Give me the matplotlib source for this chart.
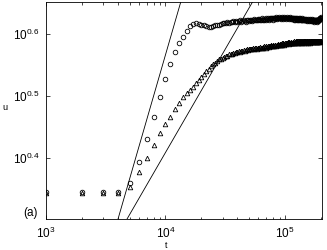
import numpy as np
import matplotlib
matplotlib.use("Agg")
import matplotlib.pyplot as plt
from matplotlib.ticker import (FixedLocator, FixedFormatter, NullLocator,
                               LogLocator, NullFormatter)

plt.rcParams['font.family'] = ['Liberation Sans', 'DejaVu Sans']
plt.rcParams['mathtext.default'] = 'regular'

# time samples (every 1000 from 1e3 to 2e5)
t = np.arange(1000, 201000, 1000)

# log10(u), circles series
log_u_circle = [
    0.345, 0.345, 0.345, 0.345,
    0.360, 0.393, 0.431, 0.466, 0.499, 0.528, 0.552, 0.571, 0.586, 0.595, 0.605, 0.613,
    0.616, 0.617, 0.616, 0.615,
    0.614, 0.613, 0.612, 0.612, 0.613, 0.614, 0.614, 0.615, 0.616, 0.617,
    0.618, 0.617, 0.619, 0.618, 0.620, 0.619, 0.621, 0.620, 0.621, 0.620,
    0.621, 0.622, 0.620, 0.621, 0.622, 0.621, 0.620, 0.622, 0.623, 0.621,
    0.622, 0.623, 0.621, 0.622, 0.624, 0.622, 0.623, 0.622, 0.624, 0.623,
    0.624, 0.622, 0.623, 0.625, 0.623, 0.624, 0.622, 0.624, 0.625, 0.623,
    0.624, 0.626, 0.624, 0.623, 0.625, 0.626, 0.624, 0.625, 0.623, 0.625,
    0.626, 0.624, 0.625, 0.627, 0.625, 0.624, 0.626, 0.625, 0.627, 0.626,
    0.625, 0.624, 0.626, 0.627, 0.625, 0.626, 0.624, 0.626, 0.627, 0.625,
    0.626, 0.624, 0.625, 0.627, 0.626, 0.625, 0.624, 0.626, 0.625, 0.627,
    0.626, 0.624, 0.625, 0.626, 0.624, 0.626, 0.625, 0.623, 0.625, 0.624,
    0.625, 0.623, 0.624, 0.626, 0.624, 0.623, 0.625, 0.624, 0.623, 0.625,
    0.624, 0.622, 0.624, 0.625, 0.623, 0.624, 0.622, 0.623, 0.625, 0.623,
    0.624, 0.622, 0.623, 0.624, 0.622, 0.623, 0.624, 0.622, 0.623, 0.622,
    0.624, 0.623, 0.621, 0.623, 0.624, 0.622, 0.623, 0.621, 0.622, 0.623,
    0.622, 0.624, 0.622, 0.621, 0.623, 0.622, 0.624, 0.623, 0.621, 0.622,
    0.623, 0.622, 0.621, 0.623, 0.622, 0.620, 0.622, 0.623, 0.621, 0.622,
    0.621, 0.623, 0.622, 0.620, 0.622, 0.621, 0.623, 0.621, 0.622, 0.623,
    0.622, 0.624, 0.623, 0.624, 0.625, 0.624, 0.626, 0.625, 0.626, 0.627,
]

# log10(u), triangles series
log_u_triangle = [
    0.343, 0.343, 0.343, 0.343,
    0.353, 0.377, 0.400, 0.421, 0.440, 0.455, 0.466, 0.479, 0.489, 0.498, 0.505, 0.510, 0.515, 0.521,
    0.526, 0.531, 0.535, 0.540, 0.544, 0.548, 0.552, 0.554, 0.556, 0.559, 0.560, 0.562,
    0.563, 0.564, 0.565, 0.567, 0.567, 0.568, 0.569, 0.570, 0.571, 0.571,
    0.572, 0.571, 0.573, 0.572, 0.574, 0.573, 0.574, 0.575, 0.574, 0.575,
    0.576, 0.575, 0.576, 0.577, 0.576, 0.577, 0.578, 0.576, 0.577, 0.578,
    0.577, 0.579, 0.578, 0.577, 0.579, 0.578, 0.580, 0.579, 0.578, 0.580,
    0.579, 0.581, 0.580, 0.579, 0.581, 0.580, 0.582, 0.580, 0.581, 0.582,
    0.581, 0.583, 0.582, 0.581, 0.583, 0.582, 0.584, 0.582, 0.583, 0.584,
    0.583, 0.582, 0.584, 0.585, 0.583, 0.584, 0.585, 0.583, 0.584, 0.586,
    0.585, 0.584, 0.586, 0.585, 0.587, 0.585, 0.584, 0.586, 0.587, 0.585,
    0.586, 0.585, 0.587, 0.586, 0.585, 0.587, 0.586, 0.588, 0.586, 0.585,
    0.587, 0.586, 0.588, 0.587, 0.586, 0.588, 0.587, 0.586, 0.588, 0.587,
    0.586, 0.588, 0.587, 0.589, 0.587, 0.586, 0.588, 0.587, 0.586, 0.588,
    0.587, 0.589, 0.588, 0.586, 0.588, 0.587, 0.589, 0.588, 0.586, 0.587,
    0.588, 0.587, 0.589, 0.588, 0.587, 0.586, 0.588, 0.587, 0.589, 0.588,
    0.587, 0.588, 0.586, 0.588, 0.587, 0.589, 0.588, 0.587, 0.588, 0.587,
    0.589, 0.588, 0.587, 0.588, 0.589, 0.587, 0.588, 0.587, 0.589, 0.588,
    0.587, 0.588, 0.589, 0.588, 0.587, 0.588, 0.587, 0.589, 0.588, 0.587,
    0.588, 0.589, 0.587, 0.588, 0.589, 0.588, 0.587, 0.589, 0.588, 0.588,
]

# reference power laws u = c * t^p
line_coef = [0.00794, 0.119]
line_pow = [2.0 / 3.0, 1.0 / 3.0]

xticks = [1e3, 1e4, 1e5]
xticklabels = [r'$10^{3}$', r'$10^{4}$', r'$10^{5}$']
yticks_exp = [0.4, 0.5, 0.6]
yticklabels = [r'$10^{0.4}$', r'$10^{0.5}$', r'$10^{0.6}$']

fig = plt.figure(figsize=(3.27, 2.5), dpi=100)
ax = fig.add_axes([46 / 327, 31 / 250, 276 / 327, 217 / 250])

u_c = 10 ** np.array(log_u_circle)
u_t = 10 ** np.array(log_u_triangle)
ax.plot(t, u_c, linestyle='none', marker='o', markersize=3.3, mfc='none',
        mec='black', mew=0.6)
ax.plot(t, u_t, linestyle='none', marker='^', markersize=3.3, mfc='none',
        mec='black', mew=0.6)

tl = np.logspace(3, np.log10(2.1e5), 300)
for c, p in zip(line_coef, line_pow):
    ax.plot(tl, c * tl ** p, color='black', lw=0.6)

ax.set_xscale('log')
ax.set_yscale('log')
ax.set_xlim(1e3, 2.04e5)
ax.set_ylim(10 ** 0.3016, 10 ** 0.6516)

ax.xaxis.set_major_locator(FixedLocator(xticks))
ax.xaxis.set_major_formatter(FixedFormatter(xticklabels))
ax.xaxis.set_minor_locator(LogLocator(base=10, subs=np.arange(2, 10)))
ax.xaxis.set_minor_formatter(NullFormatter())
ax.yaxis.set_major_locator(FixedLocator([10 ** e for e in yticks_exp]))
ax.yaxis.set_major_formatter(FixedFormatter(yticklabels))
ax.yaxis.set_minor_locator(NullLocator())

ax.tick_params(which='both', direction='in', top=True, right=True,
               width=0.5, labelsize=8.5)
ax.tick_params(which='major', length=3, pad=5)
ax.tick_params(which='minor', length=1.8)
for s in ax.spines.values():
    s.set_linewidth(0.6)

fig.text(166 / 327, 5 / 250, 't', fontsize=6.5, ha='center', va='center')
fig.text(5 / 327, 143 / 250, 'u', fontsize=6.5, ha='center', va='center')
fig.text(30 / 327, 37 / 250, '(a)', fontsize=8.5, ha='center', va='center')

fig.savefig('out.png', dpi=100)
